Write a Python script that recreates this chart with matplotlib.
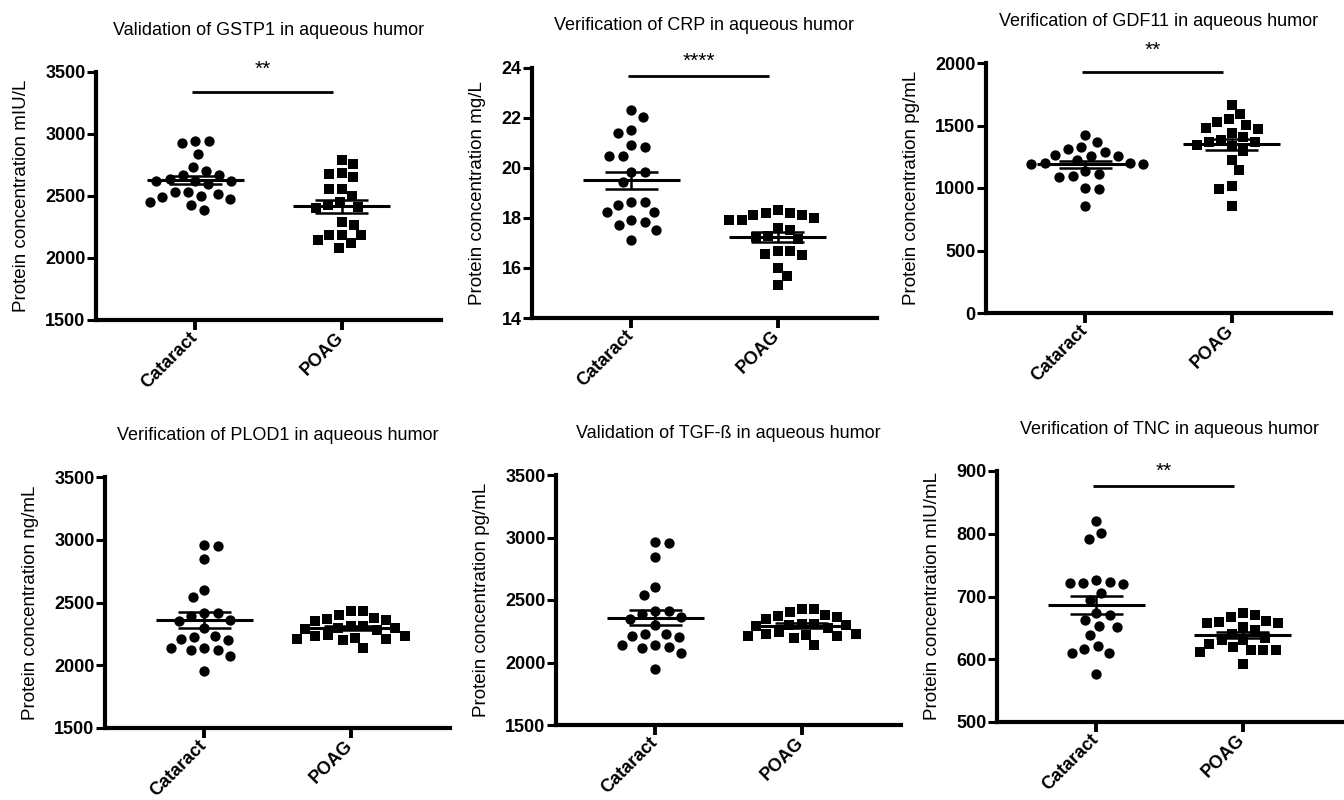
import numpy as np
import matplotlib
matplotlib.use("Agg")
import matplotlib.pyplot as plt

plt.rcParams['font.family'] = ['Liberation Sans', 'DejaVu Sans']

groups = ['Cataract', 'POAG']

titles = ['Validation of GSTP1 in aqueous humor',
          'Verification of CRP in aqueous humor',
          'Verification of GDF11 in aqueous humor',
          'Verification of PLOD1 in aqueous humor',
          'Validation of TGF-ß in aqueous humor',
          'Verification of TNC in aqueous humor']

ylabels = ['Protein concentration mIU/L',
           'Protein concentration mg/L',
           'Protein concentration pg/mL',
           'Protein concentration ng/mL',
           'Protein concentration pg/mL',
           'Protein concentration mIU/mL']

yticks = [[1500, 2000, 2500, 3000, 3500],
          [14, 16, 18, 20, 22, 24],
          [0, 500, 1000, 1500, 2000],
          [1500, 2000, 2500, 3000, 3500],
          [1500, 2000, 2500, 3000, 3500],
          [500, 600, 700, 800, 900]]

sig_marks = ['**', '****', '**', '', '', '**']
sig_y = [3341, 23.67, 1925, None, None, 876.6]
star_y = [3520, 24.25, 2100, None, None, 899]

# values
gstp1_cataract = [2944, 2928, 2944, 2837, 2703, 2735, 2668, 2668, 2622, 2635, 2625,
                  2620, 2595, 2533, 2533, 2520, 2493, 2501, 2474, 2453, 2426, 2386]
gstp1_poag = [2794, 2762, 2681, 2689, 2654, 2560, 2560, 2499, 2453, 2413,
              2400, 2430, 2292, 2265, 2184, 2144, 2077, 2117, 2184, 2184]

crp_cataract = [22.33, 22.04, 21.53, 21.4, 20.83, 20.91, 20.49, 20.49, 19.84, 19.84, 19.43,
                18.64, 18.51, 18.64, 18.24, 18.24, 17.93, 17.71, 17.84, 17.53, 17.13]
crp_poag = [18.2, 18.13, 18.0, 17.93, 17.93, 18.13, 18.2, 18.33, 17.53, 17.6,
            17.27, 17.24, 17.16, 16.67, 16.57, 16.53, 16.67, 16.0, 15.67, 15.31]

gdf11_cataract = [1427, 1368, 1315, 1325, 1285, 1253, 1267, 1253, 1221, 1195,
                  1192, 1200, 1200, 1093, 1133, 1088, 1112, 1000, 992, 853]
gdf11_poag = [1667, 1595, 1528, 1555, 1480, 1472, 1507, 1440, 1387, 1405,
              1347, 1365, 1365, 1293, 1333, 1227, 1147, 1013, 992, 853]

plod1_cataract = [2953, 2961, 2847, 2602, 2544, 2416, 2416, 2363, 2390, 2350, 2297,
                  2225, 2204, 2212, 2230, 2137, 2119, 2124, 2137, 2076, 1952]
plod1_poag = [2430, 2430, 2363, 2377, 2403, 2350, 2310, 2370, 2310, 2297, 2290,
              2280, 2230, 2212, 2212, 2199, 2217, 2230, 2244, 2137, 2300]

tgfb_cataract = [2953, 2961, 2847, 2602, 2544, 2416, 2416, 2363, 2390, 2350, 2297,
                 2225, 2204, 2212, 2230, 2137, 2119, 2124, 2137, 2076, 1952]
tgfb_poag = [2430, 2430, 2363, 2377, 2403, 2350, 2310, 2370, 2310, 2297, 2290,
             2280, 2230, 2212, 2212, 2199, 2217, 2230, 2244, 2137, 2300]

tnc_cataract = [820.7, 800.5, 790.9, 723.4, 721.8, 720.7, 721.8, 726, 705.8, 694, 670,
                674, 662, 653, 651.6, 638, 620.7, 610, 610, 616.4, 576]
tnc_poag = [671, 674, 660.6, 657, 651.6, 657, 659.5, 667.5, 641, 646,
            625, 614, 614, 619.6, 611.6, 615.4, 631, 592, 634.5, 630]

data = [(gstp1_cataract, gstp1_poag), (crp_cataract, crp_poag),
        (gdf11_cataract, gdf11_poag), (plod1_cataract, plod1_poag),
        (tgfb_cataract, tgfb_poag), (tnc_cataract, tnc_poag)]

# axes boxes in pixels: left, top, bottom (width fixed)
W, H = 1344, 800
boxes = [(96, 72, 320), (532, 68, 318), (986, 63, 313),
         (105, 477, 728), (556, 475, 725), (997, 471, 722)]
box_w = 345


def swarm_x(ax, vals, center, diam=13.0):
    # classic beeswarm: each point goes to the free spot closest to the centre
    vals = np.asarray(vals, float)
    pts = ax.transData.transform(np.column_stack([np.full(len(vals), center), vals]))
    y_px = pts[:, 1]
    unit = ax.transData.transform((center + 1, 0))[0] - ax.transData.transform((center, 0))[0]
    placed = []
    offs = np.zeros(len(vals))
    n_right = n_left = 0
    for i in np.argsort(-vals):
        near = [(px, py) for px, py in placed if abs(py - y_px[i]) < diam]
        cands = [0.0]
        for px, py in near:
            dx = np.sqrt(diam ** 2 - (py - y_px[i]) ** 2)
            cands += [px + dx, px - dx]
        ok = [c for c in cands
              if all((c - px) ** 2 + (y_px[i] - py) ** 2 >= diam ** 2 - 1e-6 for px, py in near)]
        prefer = 1 if n_right <= n_left else -1
        x = min(ok, key=lambda c: (round(abs(c), 3), -prefer * np.sign(c)))
        if x > 0:
            n_right += 1
        elif x < 0:
            n_left += 1
        placed.append((x, y_px[i]))
        offs[i] = x / unit
    return center + offs


fig = plt.figure(figsize=(W / 100, H / 100), dpi=100)

for k in range(6):
    left, top, bottom = boxes[k]
    ax = fig.add_axes([left / W, 1 - bottom / H, box_w / W, (bottom - top) / H])
    ax.set_xlim(-0.68, 1.68)
    ax.set_ylim(yticks[k][0], yticks[k][-1])
    for s in ['top', 'right']:
        ax.spines[s].set_visible(False)
    for s in ['left', 'bottom']:
        ax.spines[s].set_linewidth(3.0)
    ax.set_yticks(yticks[k], labels=[str(v) for v in yticks[k]], fontweight='bold', fontsize=13)
    ax.set_xticks([0, 1], labels=groups, rotation=45, ha='right', va='center',
                  rotation_mode='anchor', fontweight='bold', fontsize=13)
    ax.tick_params(axis='y', length=6.5, width=2.2, pad=1)
    ax.tick_params(axis='x', length=7, width=2.8, pad=4)
    ax.set_ylabel(ylabels[k], fontsize=13.5, labelpad=11)
    ax.set_title(titles[k], fontsize=13, pad=27)

    for g, vals in enumerate(data[k]):
        if g == 0:
            xs = swarm_x(ax, vals, g, diam=13.5)
            ax.scatter(xs, vals, s=55, marker='o', color='black', linewidths=0, zorder=2)
        else:
            xs = swarm_x(ax, vals, g, diam=12.5)
            ax.scatter(xs, vals, s=46, marker='s', color='black', linewidths=0, zorder=2)
        m = np.mean(vals)
        sem = np.std(vals, ddof=1) / np.sqrt(len(vals))
        ax.hlines(m, g - 0.33, g + 0.33, color='black', lw=2.2, zorder=3)
        ax.hlines([m - sem, m + sem], g - 0.18, g + 0.18, color='black', lw=1.8, zorder=3)
        ax.vlines(g, m - sem, m + sem, color='black', lw=1.8, zorder=3)

    if sig_marks[k]:
        ax.hlines(sig_y[k], -0.02, 0.94, color='black', lw=2, clip_on=False)
        ax.text(0.46, star_y[k], sig_marks[k], ha='center', va='center', fontsize=15,
                clip_on=False)

fig.savefig('out.png', dpi=100, facecolor='white')
